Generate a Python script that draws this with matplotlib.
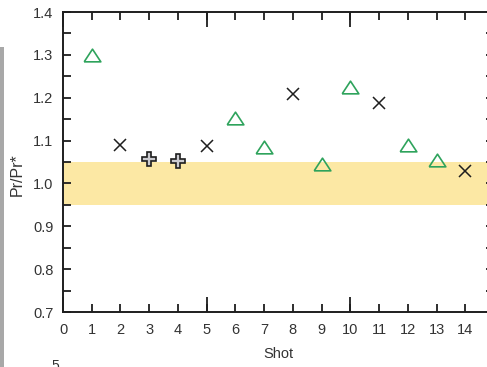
import matplotlib
matplotlib.use("Agg")
import matplotlib.pyplot as plt
from matplotlib.ticker import MultipleLocator, FixedLocator
from matplotlib.patches import Rectangle

plt.rcParams['font.family'] = ['Liberation Sans', 'DejaVu Sans']

# Pressure ratio per shot, grouped by marker type
tri_shots = [1, 6, 7, 9, 10, 12, 13]
tri_ratio = [1.30, 1.152, 1.085, 1.045, 1.225, 1.09, 1.055]
x_shots = [2, 5, 8, 11, 14]
x_ratio = [1.09, 1.088, 1.208, 1.188, 1.028]
plus_shots = [3, 4]
plus_ratio = [1.057, 1.053]

shot_ticks = list(range(0, 15))
long_ticks = [0, 5, 10, 15]
ratio_ticks = [0.7, 0.8, 0.9, 1.0, 1.1, 1.2, 1.3, 1.4]

band_low, band_high = 0.95, 1.05
x_range = (0, 15)
y_range = (0.7, 1.4)

fig = plt.figure(figsize=(4.87, 3.67), dpi=100)
ax = fig.add_axes([63 / 487, 55 / 367, 431 / 487, 300 / 367])

ax.axhspan(band_low, band_high, color='#fce8a4', lw=0, zorder=0)

tri = [(-1, -0.76), (1, -0.76), (0, 0.76), (-1, -0.76)]
ax.plot(tri_shots, tri_ratio, ls='none', marker=tri, markersize=12,
        mfc='none', mec='#2ea35c', mew=1.2, zorder=3)
ax.plot(x_shots, x_ratio, ls='none', marker='x', markersize=9,
        mec='#1e1e1e', mew=1.1, zorder=3)
ax.plot(plus_shots, plus_ratio, ls='none', marker='P', markersize=10,
        mfc='#cbcbd0', mec='#1e1e1e', mew=1.2, zorder=3)

ax.set_xlim(*x_range)
ax.set_ylim(*y_range)

# every shot gets a short labelled tick; every fifth gets an extra long tick
ax.xaxis.remove_overlapping_locs = False
ax.set_xticks(shot_ticks)
ax.set_xticklabels([str(i) for i in shot_ticks])
ax.xaxis.set_minor_locator(FixedLocator(long_ticks))
ax.set_yticks(ratio_ticks)
ax.set_yticklabels([f'{v:.1f}' for v in ratio_ticks])
ax.yaxis.set_minor_locator(MultipleLocator(0.05))

for s in ax.spines.values():
    s.set_linewidth(1.4)
    s.set_color('#1e1e1e')

ax.tick_params(axis='both', which='both', direction='in', top=True, right=True,
               color='#1e1e1e', width=1.3, labelsize=10.5, labelcolor='#333333')
ax.tick_params(axis='x', which='major', length=5.8, pad=8)
ax.tick_params(axis='x', which='minor', length=11)
ax.tick_params(axis='y', which='both', length=5.8, pad=7)

ax.set_xlabel('Shot', fontsize=10.5, color='#333333')
ax.set_ylabel('Pr/Pr*', fontsize=11.5, color='#333333')
ax.xaxis.set_label_coords(0.5, -35 / 300)
ax.yaxis.set_label_coords(-38 / 431, 0.457)

# neighbouring panel edge on the left
fig.patches.append(Rectangle((0, 0), 4 / 487, 320 / 367, transform=fig.transFigure,
                             facecolor='#a8a8a8', edgecolor='none'))
fig.text(55 / 487, -6 / 367, '5', fontsize=10, color='#333333', ha='center', va='bottom')

fig.savefig('out.png', dpi=100)
